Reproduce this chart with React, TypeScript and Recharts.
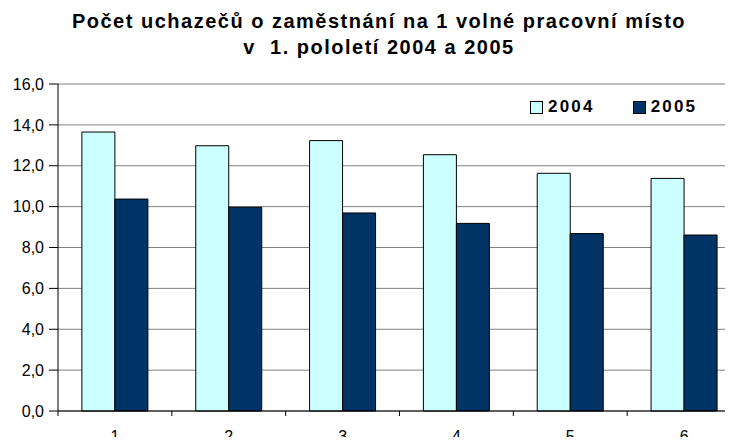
import React from "react";
import { Bar, BarChart, CartesianGrid, XAxis, YAxis } from "recharts";

const categories = ["1", "2", "3", "4", "5", "6"];
const values2004 = [13.65, 12.98, 13.23, 12.54, 11.63, 11.38];
const values2005 = [10.37, 9.97, 9.69, 9.18, 8.68, 8.61];
const yTicks = [0, 2, 4, 6, 8, 10, 12, 14, 16];
const seriesNames = ["2004", "2005"];
const seriesColors = ["#CCFFFF", "#003366"];

const data = categories.map((c, i) => ({
  label: c,
  y2004: values2004[i],
  y2005: values2005[i],
}));

const FONT = "'Liberation Sans', Arial, sans-serif";

function CategoryTick(props: any) {
  const { x, y, payload } = props;
  const half = payload?.offset ?? 0;
  return (
    <g>
      <line x1={x - half} x2={x - half} y1={y - 8} y2={y - 3} stroke="#000" />
      <text x={x} y={y + 22.5} textAnchor="middle" fontFamily={FONT} fontSize={16} fill="#000">
        {payload.value}
      </text>
    </g>
  );
}

export default function App() {
  return (
    <div style={{ margin: -8, width: 733, height: 445, overflow: "hidden", position: "relative", background: "#fff" }}>
      <div
        style={{
          position: "absolute",
          top: 8,
          left: 0,
          width: 758,
          textAlign: "center",
          fontFamily: FONT,
          fontWeight: "bold",
          fontSize: 20,
          letterSpacing: 1.5,
          lineHeight: "26px",
          color: "#000",
          zIndex: 2,
        }}
      >
        Počet uchazečů o zaměstnání na 1 volné pracovní místo
        <br />v&nbsp;&nbsp;1. pololetí 2004 a 2005
      </div>
      <div
        style={{
          position: "absolute",
          top: 97,
          left: 530,
          display: "flex",
          fontFamily: FONT,
          fontWeight: "bold",
          fontSize: 17,
          letterSpacing: 2.2,
          lineHeight: "19px",
          color: "#000",
          zIndex: 2,
        }}
      >
        {seriesNames.map((name, i) => (
          <div key={name} style={{ display: "flex", alignItems: "center", marginRight: 38 }}>
            <span
              style={{
                display: "inline-block",
                width: 13,
                height: 13,
                marginTop: 2,
                marginRight: 5,
                boxSizing: "border-box",
                background: seriesColors[i],
                border: "1px solid #000",
              }}
            />
            <span>{name}</span>
          </div>
        ))}
      </div>
      <BarChart
        width={760}
        height={445}
        data={data}
        margin={{ top: 84, right: 19, bottom: 0, left: 0 }}
        barCategoryGap="21%"
        barGap={0}
      >
        <CartesianGrid vertical={false} stroke="#808080" />
        <XAxis
          dataKey="label"
          axisLine={{ stroke: "#000" }}
          tickLine={false}
          height={34}
          tick={<CategoryTick />}
          interval={0}
        />
        <YAxis
          domain={[0, 16]}
          ticks={yTicks}
          width={58}
          axisLine={{ stroke: "#000" }}
          tickLine={{ stroke: "#000" }}
          tickSize={9}
          tickMargin={5}
          tick={{ fill: "#000", fontSize: 16, fontFamily: FONT }}
          tickFormatter={(v) => Number(v).toFixed(1).replace(".", ",")}
        />
        <Bar dataKey="y2004" name={seriesNames[0]} fill={seriesColors[0]} stroke="#000" strokeWidth={1} isAnimationActive={false} />
        <Bar dataKey="y2005" name={seriesNames[1]} fill={seriesColors[1]} stroke="#000" strokeWidth={1} isAnimationActive={false} />
      </BarChart>
    </div>
  );
}
